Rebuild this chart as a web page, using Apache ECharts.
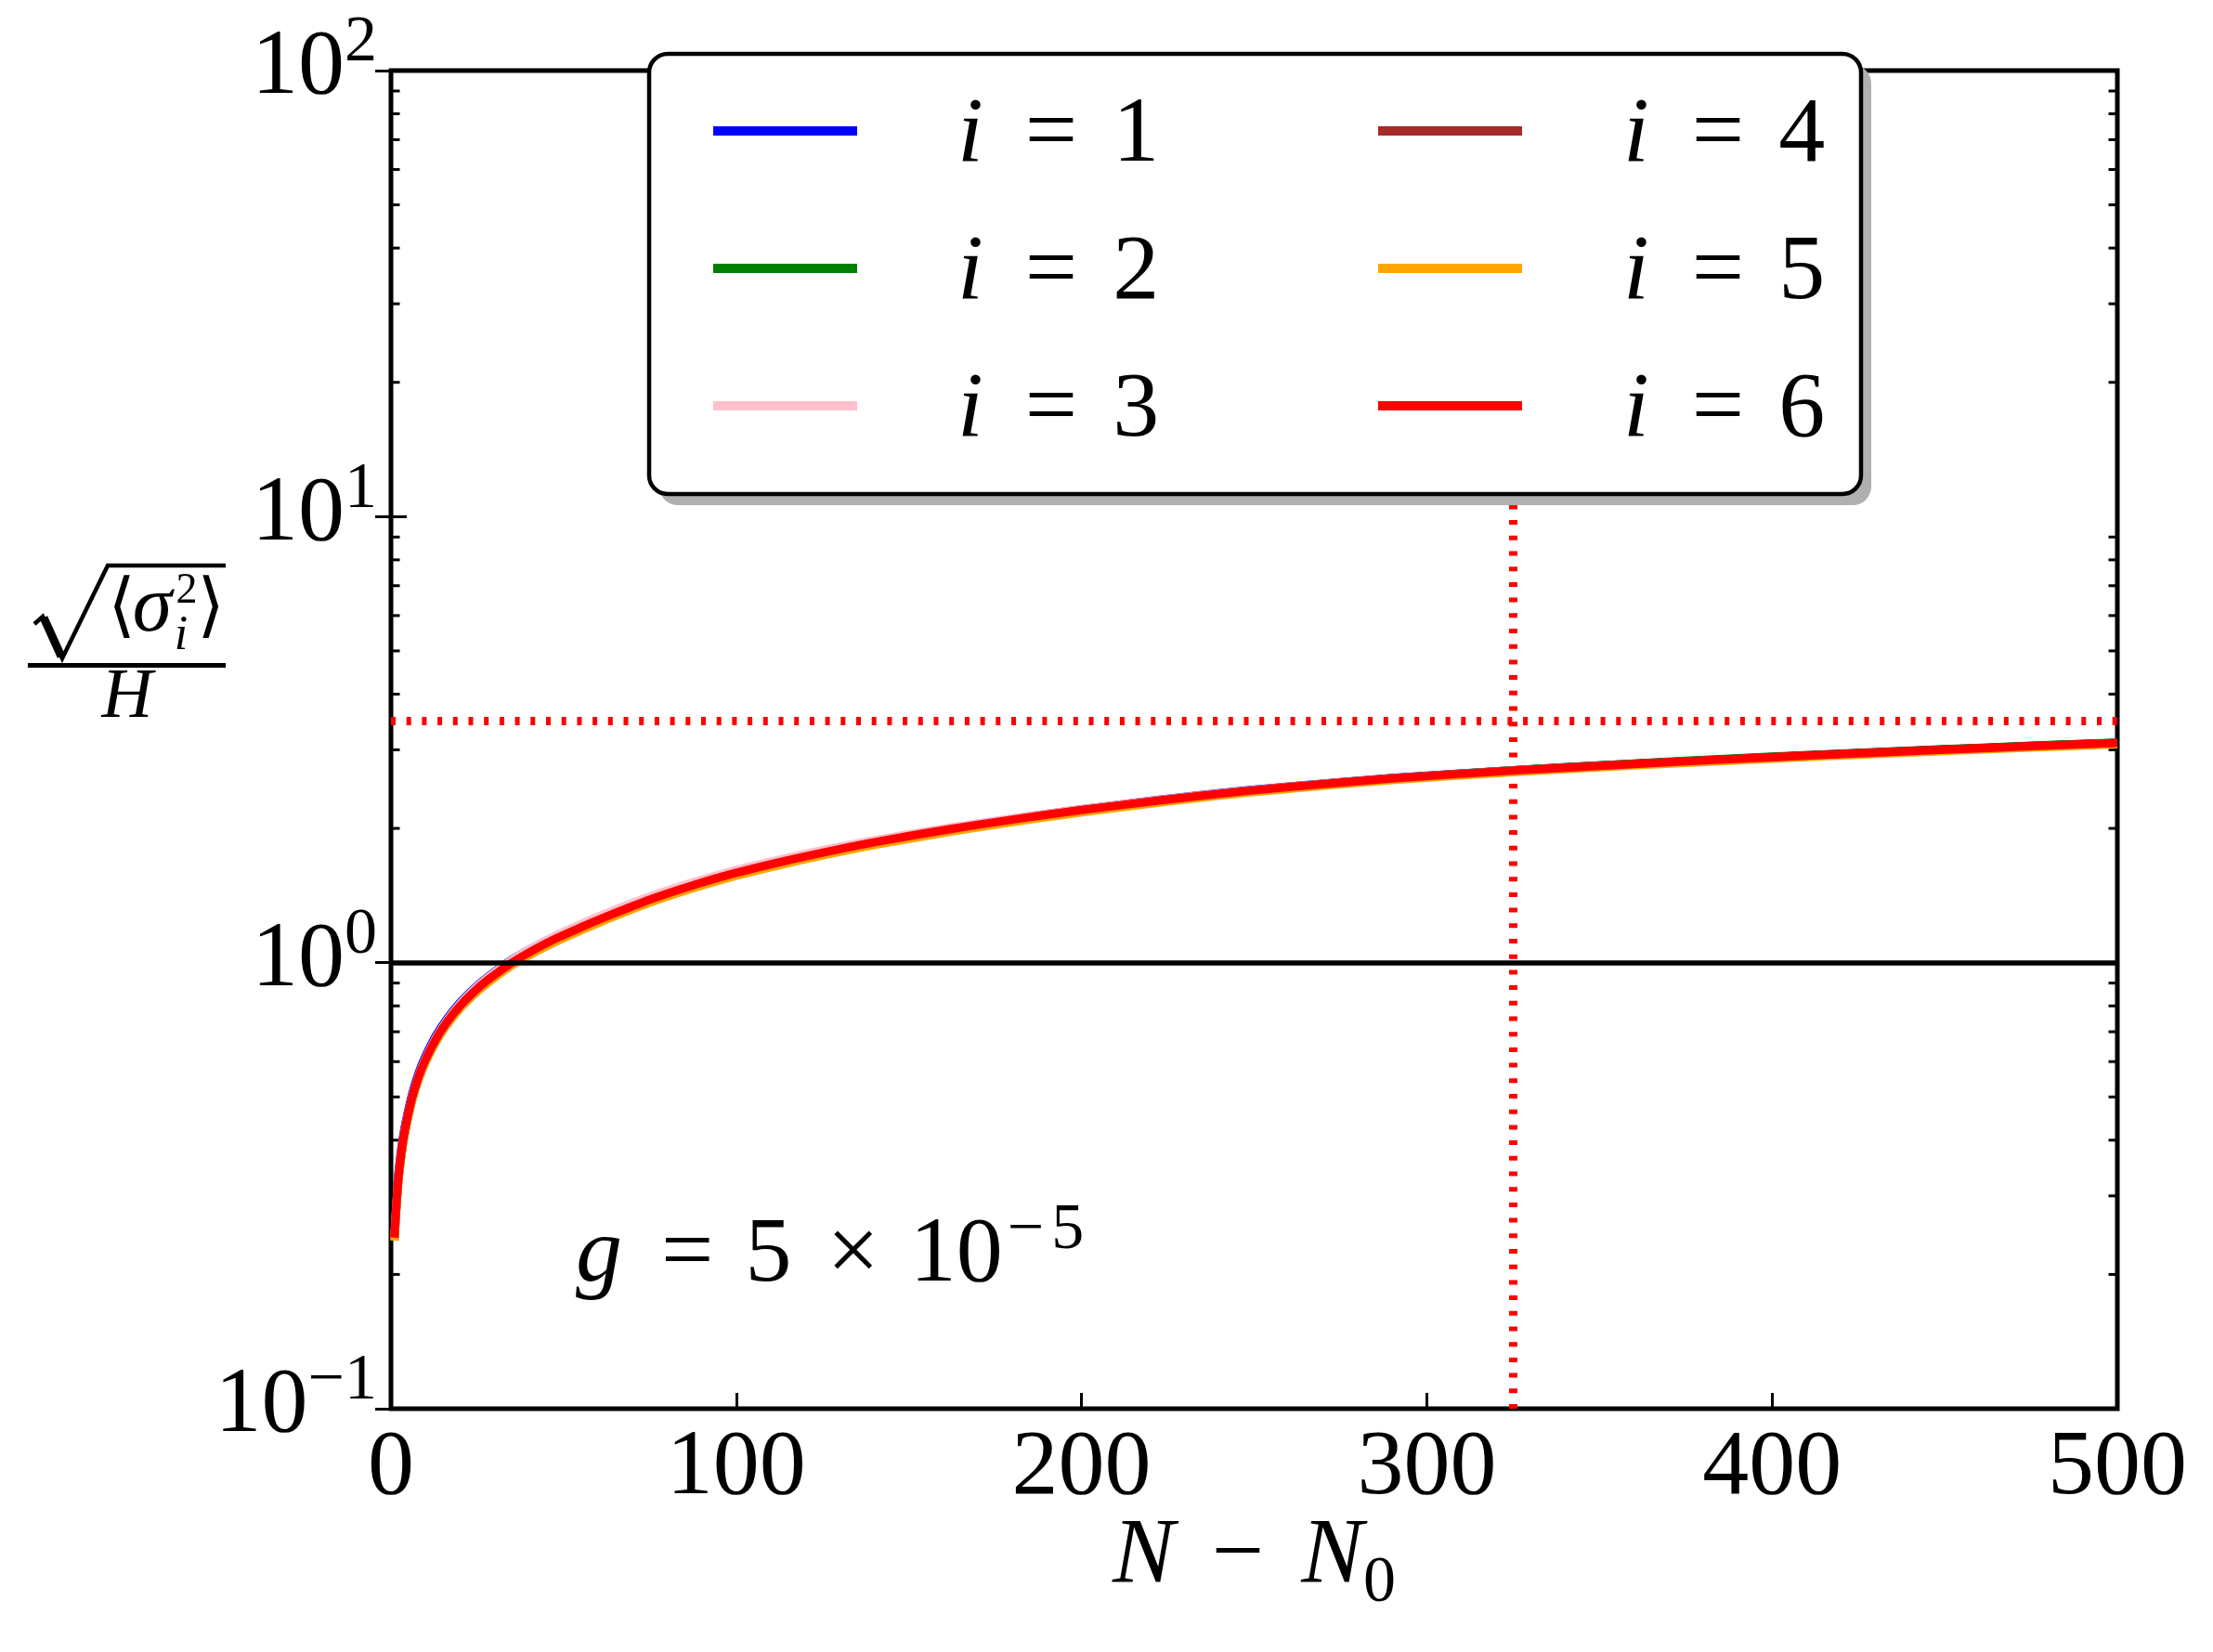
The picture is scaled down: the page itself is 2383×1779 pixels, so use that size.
<!DOCTYPE html>
<html>
<head>
<meta charset="utf-8">
<title>sqrt(sigma_i^2)/H vs N - N0</title>
<script src="https://cdn.jsdelivr.net/npm/echarts@6.0.0/dist/echarts.min.js"></script>
<style>
html,body{margin:0;padding:0;background:#ffffff;}
#chart{width:2383px;height:1779px;}
</style>
</head>
<body>
<div id="chart"></div>
<script>
// ---------------- data ----------------
const N = [1,2,3,4,6,8,10,13,16,20,24,28,35,42,48,55,62,75,88,100,115,130,142,156,170,190,210,235,260,290,325,350,375,400,425,450,475,500];

const sigma_i1 = [0.247,0.326,0.383,0.428,0.503,0.565,0.617,0.685,0.744,0.813,0.874,0.928,1.015,1.09,1.15,1.215,1.28,1.4,1.51,1.605,1.711,1.81,1.886,1.969,2.048,2.156,2.257,2.377,2.483,2.594,2.701,2.767,2.83,2.891,2.95,3.006,3.06,3.111];
const sigma_i2 = [0.239,0.316,0.371,0.416,0.489,0.549,0.6,0.666,0.725,0.792,0.852,0.905,0.99,1.065,1.124,1.189,1.254,1.373,1.483,1.578,1.686,1.788,1.865,1.95,2.031,2.142,2.245,2.368,2.477,2.59,2.7,2.769,2.834,2.896,2.955,3.011,3.064,3.114];
const sigma_i3 = [0.242,0.319,0.376,0.421,0.496,0.558,0.61,0.678,0.738,0.808,0.87,0.925,1.013,1.091,1.153,1.22,1.287,1.408,1.519,1.614,1.72,1.82,1.894,1.976,2.053,2.158,2.257,2.374,2.479,2.589,2.695,2.761,2.824,2.884,2.942,2.997,3.05,3.1];
const sigma_i4 = [0.24,0.316,0.372,0.416,0.49,0.55,0.601,0.667,0.726,0.793,0.853,0.906,0.991,1.066,1.125,1.19,1.255,1.374,1.483,1.578,1.684,1.785,1.861,1.945,2.025,2.135,2.238,2.36,2.468,2.581,2.69,2.759,2.825,2.887,2.947,3.003,3.056,3.104];
const sigma_i5 = [0.238,0.314,0.369,0.413,0.486,0.546,0.597,0.663,0.721,0.788,0.847,0.9,0.985,1.058,1.117,1.181,1.245,1.363,1.472,1.566,1.671,1.771,1.847,1.93,2.01,2.12,2.223,2.346,2.454,2.566,2.674,2.742,2.806,2.867,2.926,2.982,3.036,3.086];
const sigma_i6 = [0.242,0.319,0.375,0.42,0.494,0.555,0.606,0.673,0.732,0.80,0.86,0.914,1.0,1.075,1.135,1.2,1.265,1.385,1.495,1.59,1.697,1.798,1.874,1.958,2.038,2.147,2.249,2.37,2.477,2.588,2.696,2.763,2.827,2.888,2.947,3.003,3.057,3.108];

const seriesIndexLabels = ['1','2','3','4','5','6'];
const seriesColors = ['#0000ff','#008000','#ffc0cb','#a52a2a','#ffa500','#ff0000'];

const xTickValues = [0,100,200,300,400,500];
const yTickValues = [0.1,1,10,100];
const yTickExponents = ['\u22121','0','1','2'];
const yMinorTickValues = [0.2,0.3,0.4,0.5,0.6,0.7,0.8,0.9,2,3,4,5,6,7,8,9,20,30,40,50,60,70,80,90];

const verticalMarkerX = 325;
const horizontalMarkerY = 3.49;
const referenceY = 1;

// ---------------- layout / style ----------------
const F = 'Liberation Serif';
const X_MIN = xTickValues[0];
const X_MAX = xTickValues[xTickValues.length - 1];
const X_INT = xTickValues[1] - xTickValues[0];
const MINOR_LEN = 9.5;

const allSeries = [sigma_i1, sigma_i2, sigma_i3, sigma_i4, sigma_i5, sigma_i6];
const seriesNames = seriesIndexLabels.map(s => 'i=' + s);

const lineSeries = allSeries.map((vals, k) => ({
  name: seriesNames[k],
  type: 'line',
  xAxisIndex: 0,
  yAxisIndex: 0,
  data: N.map((n, j) => [n, vals[j]]),
  showSymbol: false,
  symbol: 'none',
  smooth: 0.3,
  lineStyle: { color: seriesColors[k], width: 9, cap: 'butt' },
  itemStyle: { color: seriesColors[k] },
  emphasis: { disabled: true },
  silent: true
}));

lineSeries[5].markLine = {
  silent: true,
  symbol: ['none', 'none'],
  label: { show: false },
  emphasis: { disabled: true },
  animation: false,
  data: [
    { xAxis: verticalMarkerX, lineStyle: { color: '#ff0000', width: 9, type: [5, 11.7], cap: 'butt' } },
    { yAxis: horizontalMarkerY, lineStyle: { color: '#ff0000', width: 9, type: [5, 11.7], cap: 'butt' } },
    { yAxis: referenceY, lineStyle: { color: '#000000', width: 5.5, type: 'solid' } }
  ]
};

const minorTickSeries = {
  type: 'custom',
  name: 'minorTicks',
  xAxisIndex: 0,
  yAxisIndex: 0,
  silent: true,
  clip: false,
  data: yMinorTickValues.map(v => [X_MIN, v]),
  renderItem: function (params, api) {
    const v = api.value(1);
    const p = api.coord([X_MIN, v]);
    const q = api.coord([X_MAX, v]);
    return {
      type: 'group',
      children: [
        { type: 'line', shape: { x1: p[0], y1: p[1], x2: p[0] + MINOR_LEN, y2: p[1] }, style: { stroke: '#000', lineWidth: 3 } },
        { type: 'line', shape: { x1: q[0] - MINOR_LEN, y1: q[1], x2: q[0], y2: q[1] }, style: { stroke: '#000', lineWidth: 3 } }
      ]
    };
  }
};

const legendFormatter = name => '{it|i}{eq|=}{n|' + name.split('=')[1] + '}';
function legendRich(padLeft, eqPad) {
  return {
    it: { fontFamily: F, fontStyle: 'italic', fontSize: 100, lineHeight: 112, color: '#000', padding: [12, 0, 0, padLeft] },
    eq: { fontFamily: F, fontStyle: 'normal', fontSize: 100, lineHeight: 112, color: '#000', padding: [12, eqPad[1], 0, eqPad[3]] },
    n:  { fontFamily: F, fontStyle: 'normal', fontSize: 100, lineHeight: 112, color: '#000', padding: [12, 0, 0, 0] }
  };
}

const majorTick = { show: true, inside: true, length: 17, lineStyle: { color: '#000', width: 3 } };

const option = {
  animation: false,
  backgroundColor: '#ffffff',
  textStyle: { fontFamily: F },
  grid: {
    left: 421, right: 103, top: 76, bottom: 262,
    show: true, borderColor: '#000', borderWidth: 5, backgroundColor: 'transparent',
    containLabel: false, outerBoundsMode: 'none'
  },
  xAxis: [
    {
      type: 'value', position: 'bottom', min: X_MIN, max: X_MAX, interval: X_INT,
      axisLine: { show: false }, splitLine: { show: false },
      axisTick: majorTick,
      axisLabel: { show: true, margin: 15, fontFamily: F, fontSize: 100, color: '#000', formatter: v => String(v) },
      name: '{it|N}{op|\u2212}{it|N}{sub|0}',
      nameLocation: 'middle', nameGap: 110, nameMoveOverlap: false,
      nameTextStyle: {
        fontFamily: F,
        rich: {
          it: { fontFamily: F, fontStyle: 'italic', fontSize: 100, color: '#000', verticalAlign: 'top' },
          op: { fontFamily: F, fontSize: 100, color: '#000', verticalAlign: 'top', padding: [0, 40, 0, 40] },
          sub: { fontFamily: F, fontSize: 70, color: '#000', verticalAlign: 'top', padding: [44, 0, 0, 0] }
        }
      }
    },
    {
      type: 'value', position: 'top', min: X_MIN, max: X_MAX, interval: X_INT,
      axisLine: { show: false }, splitLine: { show: false },
      axisTick: majorTick, axisLabel: { show: false }
    }
  ],
  yAxis: [
    {
      type: 'log', logBase: 10, position: 'left', min: yTickValues[0], max: yTickValues[yTickValues.length - 1],
      axisLine: { show: false }, splitLine: { show: false }, minorTick: { show: false },
      axisTick: majorTick,
      axisLabel: {
        show: true, margin: 15, fontFamily: F,
        formatter: function (v) {
          const e = Math.round(Math.log10(v));
          const idx = yTickValues.findIndex(t => Math.round(Math.log10(t)) === e);
          return '{b|10}{s|' + yTickExponents[idx] + '}';
        },
        rich: {
          b: { fontFamily: F, fontSize: 100, color: '#000', verticalAlign: 'bottom', padding: [0, 0, 16, 0] },
          s: { fontFamily: F, fontSize: 70, color: '#000', verticalAlign: 'bottom', padding: [0, 0, 58, 0] }
        }
      }
    },
    {
      type: 'log', logBase: 10, position: 'right', min: yTickValues[0], max: yTickValues[yTickValues.length - 1],
      axisLine: { show: false }, splitLine: { show: false }, minorTick: { show: false },
      axisTick: majorTick, axisLabel: { show: false }
    }
  ],
  legend: [
    {
      data: seriesNames.slice(0, 3), orient: 'vertical', left: 768, top: 85, padding: 0,
      itemWidth: 155, itemHeight: 10, itemGap: 36, icon: 'rect', selectedMode: false, z: 20,
      formatter: legendFormatter,
      textStyle: { fontFamily: F, fontSize: 100, color: '#000', rich: legendRich(103, [0, 38, 0, 45]) }
    },
    {
      data: seriesNames.slice(3, 6), orient: 'vertical', left: 1484, top: 85, padding: 0,
      itemWidth: 155, itemHeight: 10, itemGap: 36, icon: 'rect', selectedMode: false, z: 20,
      formatter: legendFormatter,
      textStyle: { fontFamily: F, fontSize: 100, color: '#000', rich: legendRich(104, [0, 37, 0, 46]) }
    }
  ],
  graphic: [
    // legend frame shadow + frame
    { type: 'rect', z: 9, silent: true, shape: { x: 710, y: 70, width: 1305, height: 474, r: 20 }, style: { fill: '#b0b0b0' } },
    { type: 'rect', z: 10, silent: true, shape: { x: 699, y: 58, width: 1305, height: 474, r: 20 }, style: { fill: '#ffffff', stroke: '#000000', lineWidth: 4.5 } },
    // y-axis label: sqrt(<sigma_i^2>) / H
    { type: 'polyline', z: 10, silent: true, shape: { points: [[37, 672], [46, 664], [67, 709], [116, 609], [243, 609]] }, style: { stroke: '#000', lineWidth: 4.5, fill: null, lineJoin: 'miter' } },
    { type: 'line', z: 10, silent: true, shape: { x1: 47, y1: 665, x2: 66, y2: 707 }, style: { stroke: '#000', lineWidth: 9 } },
    { type: 'text', z: 10, silent: true, x: 131, y: 657, style: { text: '\u27E8', fontFamily: 'DejaVu Serif', fontSize: 76, fill: '#000', align: 'center', verticalAlign: 'middle' } },
    { type: 'text', z: 10, silent: true, x: 164, y: 656, style: { text: '\u03C3', fontFamily: F, fontStyle: 'italic', fontSize: 86, fill: '#000', align: 'center', verticalAlign: 'middle' } },
    { type: 'text', z: 10, silent: true, x: 201, y: 637, style: { text: '2', fontFamily: F, fontSize: 46, fill: '#000', align: 'center', verticalAlign: 'middle' } },
    { type: 'text', z: 10, silent: true, x: 195, y: 685, style: { text: 'i', fontFamily: F, fontStyle: 'italic', fontSize: 52, fill: '#000', align: 'center', verticalAlign: 'middle' } },
    { type: 'text', z: 10, silent: true, x: 227, y: 657, style: { text: '\u27E9', fontFamily: 'DejaVu Serif', fontSize: 76, fill: '#000', align: 'center', verticalAlign: 'middle' } },
    { type: 'rect', z: 10, silent: true, shape: { x: 30, y: 714, width: 213, height: 5 }, style: { fill: '#000' } },
    { type: 'text', z: 10, silent: true, x: 137, y: 752, style: { text: 'H', fontFamily: F, fontStyle: 'italic', fontSize: 76, fill: '#000', align: 'center', verticalAlign: 'middle' } },
    // annotation g = 5 x 10^-5
    {
      type: 'text', z: 10, silent: true, x: 620, y: 1291,
      style: {
        text: '{g|g}{op|=}{n|5}{x|\u00D7}{n|10}{sm|\u2212}{s|5}',
        fontFamily: F, fontSize: 100,
        align: 'left', verticalAlign: 'top',
        rich: {
          g:  { fontFamily: F, fontStyle: 'italic', fontSize: 100, fill: '#000', verticalAlign: 'bottom' },
          op: { fontFamily: F, fontStyle: 'normal', fontSize: 100, fill: '#000', verticalAlign: 'bottom', padding: [0, 34, 0, 42] },
          n:  { fontFamily: F, fontStyle: 'normal', fontSize: 100, fill: '#000', verticalAlign: 'bottom' },
          x:  { fontFamily: F, fontStyle: 'normal', fontSize: 100, fill: '#000', verticalAlign: 'bottom', padding: [0, 33, 0, 38] },
          sm: { fontFamily: F, fontStyle: 'normal', fontSize: 70, fill: '#000', verticalAlign: 'bottom', padding: [0, 8, 42, 5] },
          s:  { fontFamily: F, fontStyle: 'normal', fontSize: 70, fill: '#000', verticalAlign: 'bottom', padding: [0, 0, 42, 0] }
        }
      }
    }
  ],
  series: lineSeries.concat([minorTickSeries])
};

const chart = echarts.init(document.getElementById('chart'), null, { renderer: 'canvas', width: 2383, height: 1779 });
chart.setOption(option);
</script>
</body>
</html>
